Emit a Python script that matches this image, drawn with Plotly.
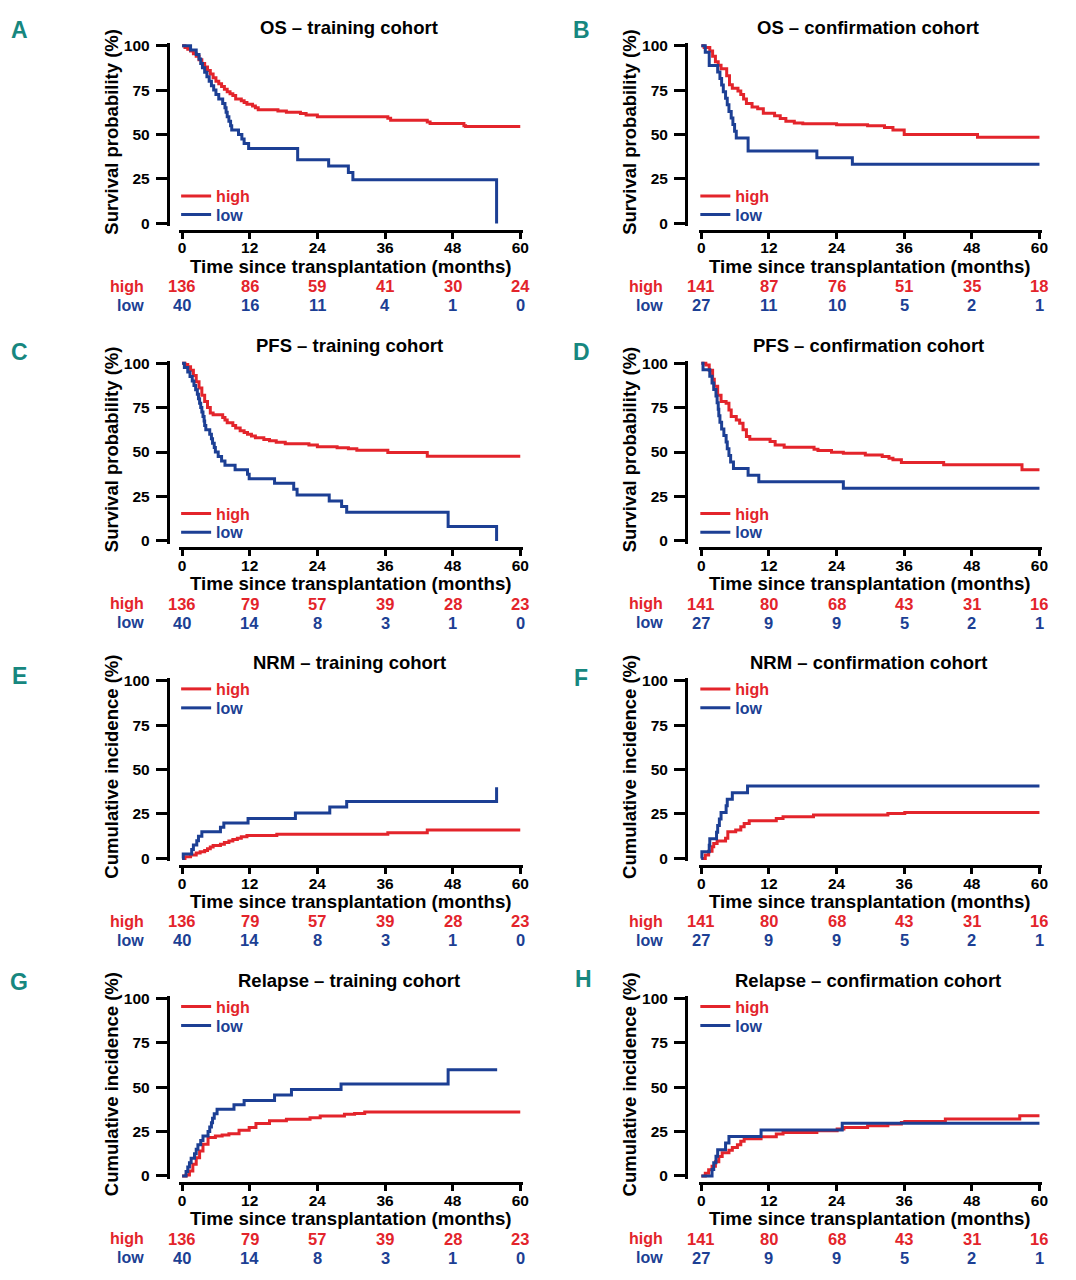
import plotly.graph_objects as go

# figure sits inside the page's default body margin; a small calibration maps
# reference pixel positions onto the rendered page
OFF_X, OFF_Y = 8, 13.4
SX, SY = 0.993, 0.992
W, H = 1060, 1264
RED = '#e3242b'
BLUE = '#1c3f94'
TEAL = '#17877f'
FONT = 'Liberation Sans, Arial, sans-serif'

TICKS_X = [0, 12, 24, 36, 48, 60]
TICKS_Y = [0, 25, 50, 75, 100]

# ---------------- data (months, %) ----------------
A_high_t = [0, 0.5, 1.0, 1.5, 2.0, 2.5, 3.0, 3.5, 4.0, 4.5, 5.0, 5.5, 6.0, 6.5, 7.0, 7.5, 8.0, 8.5, 9.0, 9.5, 10.5, 11.0, 11.5, 12.5, 13.0, 13.5, 17.0, 18.5, 21.0, 22.0, 24.0, 36.5, 37.0, 43.5, 44.0, 50.0, 50.3, 60]
A_high_v = [100, 99, 98, 97, 95.5, 94, 92, 90, 88, 86, 84, 82, 80, 78.5, 77, 75.5, 74, 73, 72, 70, 69, 68, 67, 66, 65, 64, 63.3, 62.5, 61.8, 61, 60, 59.2, 58.0, 57, 56.2, 55, 54.5, 54.5]
A_low_t = [0, 1.5, 2.5, 3.0, 3.3, 3.6, 4.0, 4.4, 4.8, 5.2, 5.6, 6.0, 6.5, 7.2, 7.6, 7.8, 8.0, 8.3, 8.6, 8.8, 10.0, 10.6, 11.0, 11.8, 20.5, 26.0, 29.5, 30.3, 55.8]
A_low_v = [100, 97.5, 95, 92.5, 90, 87.5, 85, 82.5, 80, 77.5, 75, 72.5, 70, 67.5, 65, 62.5, 60, 57.5, 55, 52.5, 50, 47.5, 45, 42.2, 35.8, 32.3, 28.6, 24.6, 0]

B_high_t = [0, 0.5, 1.5, 2.0, 2.5, 3.0, 3.5, 4.5, 5.0, 5.5, 6.5, 7.0, 7.5, 8.0, 9.0, 10.0, 11.0, 13.0, 14.0, 15.0, 16.5, 18.0, 24.0, 29.5, 32.5, 34.0, 36.0, 49.0, 60]
B_high_v = [100, 99, 97, 94, 91, 89, 87, 83, 78, 76, 74.5, 72.5, 70, 67.5, 65.5, 64.5, 62, 60.5, 59, 57.5, 56.5, 56, 55.5, 55, 54, 52.5, 50, 48.5, 48.5]
B_low_t = [0, 0.7, 1.4, 2.9, 3.3, 3.6, 3.9, 4.3, 4.6, 4.9, 5.3, 5.6, 5.9, 6.2, 8.3, 20.5, 26.8, 60]
B_low_v = [100, 96.3, 88.9, 85.2, 81.5, 77.8, 74.1, 70.4, 66.7, 63.0, 59.3, 55.6, 51.9, 48.1, 40.7, 37.0, 33.3, 33.3]

C_high_t = [0, 0.5, 1.0, 1.5, 2.0, 2.5, 3.0, 3.5, 4.0, 4.5, 5.0, 5.5, 7.2, 7.6, 8.0, 9.0, 9.5, 10.3, 11.0, 11.6, 12.3, 13.0, 14.5, 15.5, 16.7, 18.3, 22.5, 24.0, 27.5, 29.5, 31.0, 36.5, 43.5, 60]
C_high_v = [100, 99.3, 98, 96, 93, 89.5, 86, 82, 78.5, 75, 72, 71, 69.5, 68, 66.5, 65, 63.5, 62, 61, 60, 59, 58, 57, 56.3, 55.5, 54.6, 54, 53, 52.4, 51.8, 51, 49.7, 47.7, 47.7]
C_low_t = [0, 0.4, 1.0, 1.4, 1.8, 2.1, 2.4, 2.7, 2.9, 3.1, 3.3, 3.5, 3.7, 3.9, 4.0, 4.2, 4.9, 5.2, 5.4, 5.7, 5.9, 6.4, 7.0, 7.6, 9.4, 11.6, 11.9, 16.4, 19.8, 20.4, 26.1, 28.3, 29.2, 47.2, 55.8]
C_low_v = [100, 97.5, 95, 92.5, 90, 87.5, 85, 82.5, 80, 77.5, 75, 72.5, 70, 67.5, 65, 62.5, 60, 57.5, 55, 52.5, 50, 47.5, 45, 42.5, 40, 37.5, 35, 32.5, 29, 25.8, 22.4, 19.4, 16.1, 8.1, 0]

D_high_t = [0, 0.8, 1.4, 2.0, 2.3, 2.9, 3.5, 4.4, 4.9, 5.3, 6.2, 6.8, 7.4, 8.0, 8.6, 12.2, 13.1, 14.7, 20.0, 20.7, 23.1, 25.2, 29.1, 32.1, 33.3, 34.0, 35.5, 43.0, 56.9, 60]
D_high_v = [100, 99, 96, 91, 87, 82, 78.4, 77.5, 73.7, 70, 68, 66.2, 62.5, 58.7, 57.2, 56, 54, 52.7, 51.6, 50.8, 49.9, 49.3, 48.4, 47.5, 46.5, 45.6, 44.1, 42.8, 40, 40]
D_low_t = [0, 0.3, 1.5, 1.9, 2.2, 2.6, 2.8, 3.0, 3.1, 3.3, 3.6, 4.0, 4.4, 4.6, 4.9, 5.2, 5.7, 8.3, 10.2, 25.2, 60]
D_low_v = [100, 96.3, 92.6, 88.9, 85.2, 81.5, 77.8, 74.1, 70.4, 66.7, 63.0, 59.3, 55.6, 51.9, 48.1, 44.4, 40.7, 37.0, 33.3, 29.6, 29.6]

E_high_t = [0, 0.5, 1.5, 2.5, 3.2, 4.0, 4.5, 5.0, 5.5, 6.8, 7.5, 8.3, 9.0, 9.8, 10.5, 11.5, 16.8, 36.5, 43.5, 60]
E_high_v = [0, 1, 2, 3, 3.7, 4.5, 5.5, 6.5, 7.3, 8.0, 9.0, 9.8, 10.6, 11.4, 12.2, 12.9, 13.6, 14.5, 16.0, 16.0]
E_low_t = [0, 0.2, 1.7, 2.0, 2.6, 2.9, 3.5, 6.8, 7.4, 11.7, 20.1, 26.2, 29.2, 55.8]
E_low_v = [0, 2.5, 5, 7.5, 10, 12.5, 15, 17.5, 20, 22.5, 25.5, 29, 32, 40]

F_high_t = [0, 0.7, 1.3, 1.9, 2.2, 2.8, 4.3, 4.7, 6.1, 7.0, 7.6, 8.5, 13.3, 14.5, 19.9, 33.1, 36.1, 60]
F_high_v = [0, 1.9, 4, 6.6, 8.4, 9.8, 11.3, 15, 16, 17.8, 19.7, 21.2, 22.5, 23.5, 24.4, 25.3, 25.9, 25.9]
F_low_t = [0, 0.1, 1.4, 1.5, 2.7, 2.9, 3.2, 3.5, 4.4, 4.6, 5.5, 8.2, 60]
F_low_v = [0, 3.7, 7.4, 11.1, 14.8, 18.5, 22.2, 25.9, 29.6, 33.3, 37.0, 40.7, 40.7]

G_high_t = [0, 0.7, 1.3, 1.9, 2.5, 3.1, 3.7, 4.6, 5.9, 7.1, 8.3, 10.1, 11.9, 13.1, 15.5, 18.5, 22.7, 24.5, 28.8, 30.6, 32.4, 60]
G_high_v = [0, 0.5, 2.8, 6.6, 10.3, 14, 17.8, 21.6, 22.5, 23.1, 23.8, 25.7, 27.2, 29.5, 31, 31.9, 32.8, 33.8, 34.7, 35.1, 36, 36]
G_low_t = [0, 0.7, 1.0, 1.3, 1.6, 2.2, 2.5, 2.8, 3.3, 3.7, 4.6, 4.9, 5.2, 5.4, 5.7, 6.2, 9.2, 11.0, 16.4, 19.4, 28.2, 47.2, 55.9]
G_low_v = [0, 2.5, 5, 7.5, 10, 12.5, 15, 17.5, 20, 22.5, 25, 27.5, 30, 32.5, 35, 37.5, 40, 42.5, 45.6, 48.7, 51.8, 59.8, 59.8]

H_high_t = [0, 0.7, 1.3, 1.9, 2.5, 3.1, 3.7, 4.9, 5.5, 6.4, 7.0, 7.6, 10.6, 13.3, 14.5, 20.5, 24.1, 25.3, 29.5, 33.1, 35.5, 36.1, 43.3, 56.5, 60]
H_high_v = [0, 1.5, 3.5, 5.5, 8, 11, 13, 14.5, 16, 17.5, 19.5, 21, 22.1, 23.6, 24.5, 25.5, 26.4, 27.3, 28.3, 29.2, 30.1, 30.7, 32, 33.9, 33.9]
H_low_t = [0, 1.9, 2.2, 2.6, 2.9, 4.3, 4.9, 10.6, 25.0, 60]
H_low_v = [0, 3.7, 7.4, 11.1, 14.8, 18.5, 22.2, 25.9, 29.6, 29.6]

# numbers at risk
risk_high_train_os = [136, 86, 59, 41, 30, 24]
risk_low_train_os = [40, 16, 11, 4, 1, 0]
risk_high_conf_os = [141, 87, 76, 51, 35, 18]
risk_low_conf_os = [27, 11, 10, 5, 2, 1]
risk_high_train = [136, 79, 57, 39, 28, 23]
risk_low_train = [40, 14, 8, 3, 1, 0]
risk_high_conf = [141, 80, 68, 43, 31, 16]
risk_low_conf = [27, 9, 9, 5, 2, 1]

letters = ['A', 'B', 'C', 'D', 'E', 'F', 'G', 'H']
titles = ['OS – training cohort', 'OS – confirmation cohort',
          'PFS – training cohort', 'PFS – confirmation cohort',
          'NRM – training cohort', 'NRM – confirmation cohort',
          'Relapse – training cohort', 'Relapse – confirmation cohort']
ytitles = ['Survival probability (%)'] * 4 + ['Cumulative incidence (%)'] * 4
group_names = ['high', 'low']
group_colors = [RED, BLUE]

panels = [
    (A_high_t, A_high_v, A_low_t, A_low_v, risk_high_train_os, risk_low_train_os),
    (B_high_t, B_high_v, B_low_t, B_low_v, risk_high_conf_os, risk_low_conf_os),
    (C_high_t, C_high_v, C_low_t, C_low_v, risk_high_train, risk_low_train),
    (D_high_t, D_high_v, D_low_t, D_low_v, risk_high_conf, risk_low_conf),
    (E_high_t, E_high_v, E_low_t, E_low_v, risk_high_train, risk_low_train),
    (F_high_t, F_high_v, F_low_t, F_low_v, risk_high_conf, risk_low_conf),
    (G_high_t, G_high_v, G_low_t, G_low_v, risk_high_train, risk_low_train),
    (H_high_t, H_high_v, H_low_t, H_low_v, risk_high_conf, risk_low_conf),
]
letter_pos = [(18, 29), (580, 29), (18, 352), (580, 352), (18, 676), (580, 678), (18, 983), (582, 980)]

fig = go.Figure()
layout = dict(width=W, height=H, margin=dict(l=0, r=0, t=0, b=0),
              paper_bgcolor='white', plot_bgcolor='white', showlegend=True)
annotations = []


def px(x):
    return (x / SX - OFF_X) / W


def py(y):
    return 1 - (y / SY - OFF_Y) / H


bold = dict(family=FONT, weight='bold')

for i, (ht, hv, lt, lv, rh, rl) in enumerate(panels):
    r, c = divmod(i, 2)
    x0 = 181 + c * 519
    x60 = 519 + c * 519
    ppu = (x60 - x0) / 60.0
    y100 = 45 + r * 318
    y0 = 223 + r * 318
    ppv = (y0 - y100) / 100.0
    xr = [-0.5, 60.5]
    yr = [-1.5, 101.5]
    k = '' if i == 0 else str(i + 1)
    xname, yname = 'x' + k, 'y' + k

    # legend line centres (pixels)
    if r < 2:
        leg_y = [y0 - 27.3, y0 - 8.7]
    else:
        leg_y = [y100 + 8.3, y100 + 27.3]

    for g, (tt, vv) in enumerate([(ht, hv), (lt, lv)]):
        li = 2 * i + g + 1
        lname = 'legend' if li == 1 else 'legend' + str(li)
        fig.add_trace(go.Scatter(
            x=tt, y=vv, mode='lines', line=dict(color=group_colors[g], width=3, shape='hv'),
            xaxis=xname, yaxis=yname, legend=lname,
            name=f"<span style='color:{group_colors[g]}'>{group_names[g]}</span>",
            hoverinfo='skip'))
        layout[lname] = dict(x=px(x0 - 6), y=py(leg_y[g]), xanchor='left', yanchor='middle',
                             bgcolor='rgba(0,0,0,0)', borderwidth=0, itemwidth=30,
                             font=dict(size=16, color='black', **bold))

    layout['xaxis' + k] = dict(
        domain=[px(x0 + xr[0] * ppu), px(x0 + xr[1] * ppu)], range=xr,
        anchor='free', position=py(y0 + 7.5), tickvals=TICKS_X,
        ticks='outside', ticklen=6, tickwidth=2.5, tickcolor='black',
        ticklabelstandoff=-4,
        showline=True, linewidth=3, linecolor='black', showgrid=False, zeroline=False,
        tickfont=dict(size=15.5, color='black', **bold), fixedrange=True)
    layout['yaxis' + k] = dict(
        domain=[py(y0 - yr[0] * ppv), py(y0 - yr[1] * ppv)], range=yr,
        anchor='free', position=px(166.7 + c * 518), tickvals=TICKS_Y,
        ticks='outside', ticklen=11, tickwidth=2.5, tickcolor='black',
        ticklabelstandoff=3,
        showline=True, linewidth=3, linecolor='black', showgrid=False, zeroline=False,
        tickfont=dict(size=15.5, color='black', **bold), fixedrange=True)

    # title
    annotations.append(dict(x=px((x0 + x60) / 2 - 2), y=py(27 + r * 318), xref='paper', yref='paper',
                            text=titles[i], showarrow=False, xanchor='center', yanchor='middle',
                            font=dict(size=18.5, color='black', **bold)))
    # panel letter
    lx, ly = letter_pos[i]
    annotations.append(dict(x=px(lx), y=py(ly), xref='paper', yref='paper', text=letters[i],
                            showarrow=False, xanchor='center', yanchor='middle',
                            font=dict(size=23, color=TEAL,
                                      family='Liberation Sans Narrow, Arial Narrow, sans-serif',
                                      weight='bold')))
    # y title
    annotations.append(dict(x=px(110 + c * 518), y=py((y100 + y0) / 2 - 3), xref='paper', yref='paper',
                            text=ytitles[i], showarrow=False, textangle=-90,
                            xanchor='center', yanchor='middle',
                            font=dict(size=18.5, color='black', **bold)))
    # x title
    annotations.append(dict(x=px((x0 + x60) / 2), y=py(y0 + 43), xref='paper', yref='paper',
                            text='Time since transplantation (months)', showarrow=False,
                            xanchor='center', yanchor='middle',
                            font=dict(size=18.7, color='black', **bold)))
    # numbers at risk
    for g, (row, yy) in enumerate([(rh, y0 + 63), (rl, y0 + 82)]):
        annotations.append(dict(x=px(x0 - 36), y=py(yy), xref='paper', yref='paper',
                                text=group_names[g], showarrow=False, xanchor='right',
                                yanchor='middle', font=dict(size=16, color=group_colors[g], **bold)))
        for t, n in zip(TICKS_X, row):
            annotations.append(dict(x=t, y=py(yy), xref=xname, yref='paper', text=str(n),
                                    showarrow=False, xanchor='center', yanchor='middle',
                                    font=dict(size=16.5, color=group_colors[g], **bold)))

layout['annotations'] = annotations
fig.update_layout(**layout)
fig.write_html('out.html', config={'displayModeBar': False})
